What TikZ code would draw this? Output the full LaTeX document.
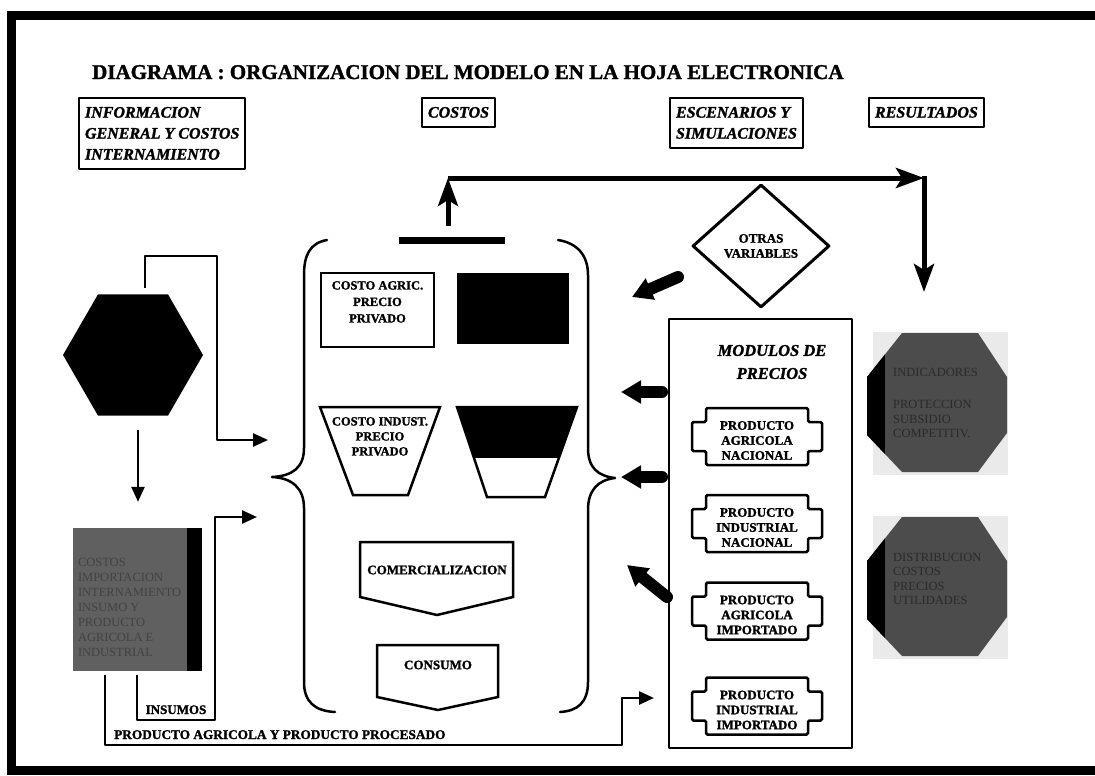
\documentclass[tikz,border=0pt]{standalone}
\usepackage{fontspec}
\setmainfont{Liberation Serif}[BoldFeatures={FakeBold=1.5},BoldItalicFeatures={FakeBold=1.5}]
\usetikzlibrary{arrows.meta,calc,positioning,shapes.geometric}

\definecolor{impgray}{RGB}{96,96,96}
\definecolor{imptext}{RGB}{66,66,66}
\definecolor{octgray}{RGB}{76,76,76}
\definecolor{octtext}{RGB}{42,42,42}
\definecolor{octback}{RGB}{234,234,234}

\tikzset{
  titletext/.style={font=\fontsize{21}{25}\selectfont\bfseries,inner sep=0pt,anchor=base west},
  headbox/.style={draw,line width=2pt,font=\fontsize{16}{21}\selectfont\bfseries\itshape,align=left,inner xsep=6pt,inner ysep=9pt,anchor=north west},
  lbl/.style={font=\fontsize{13}{15}\selectfont\bfseries,align=center,inner sep=0pt},
  boxline/.style={line width=2.5pt,line join=miter},
  flowarrow/.style={line width=2.5pt,-{Triangle[length=15pt,width=13pt]}},
  blockarrow/.style={line width=12pt,line cap=round,-{Triangle[length=20pt,width=22pt]}},
  mainarrow/.style={line width=5pt,-{Stealth[length=28pt,width=20pt,inset=6pt]}},
  bracket/.style={line width=2.5pt,line cap=round},
  graytext/.style={font=\fontsize{12.5}{15}\selectfont,text=imptext,align=left,inner sep=0pt,anchor=north west},
  octlabel/.style={font=\fontsize{12.5}{14.5}\selectfont,text=octtext,align=left,inner sep=0pt,anchor=north west},
}

% caja de producto (modulos de precios)
\newcommand{\prodbox}[3]{%
  \draw[boxline,rounded corners=1.5pt] ($(#1)+(-51,-28.5)$) -- ++(102,0) -- ++(0,14) -- ++(14,0) -- ++(0,29) -- ++(-14,0) -- ++(0,14) -- ++(-102,0) -- ++(0,-14) -- ++(-14,0) -- ++(0,-29) -- ++(14,0) -- cycle;
  \node[lbl] (#2) at ($(#1)+(0,4)$) {#3};
}

\begin{document}
\begin{tikzpicture}[x=1pt,y=-1pt,line join=round]
\useasboundingbox (0,0) rectangle (1095,776);
\begin{scope}
\clip (0,0) rectangle (1095,776);
\draw[line width=9pt,line join=miter] (11.5,16) rectangle (1110,770);
\end{scope}

\node[titletext] (titulo) at (92,79) {DIAGRAMA : ORGANIZACION DEL MODELO EN LA HOJA ELECTRONICA};
\node[headbox] (info) at (78,97) {INFORMACION\\GENERAL Y COSTOS\\INTERNAMIENTO};
\node[headbox] (costos) at (421,97) {COSTOS};
\node[headbox] (escen) at (669,97) {ESCENARIOS Y\\SIMULACIONES};
\node[headbox] (result) at (868,97) {RESULTADOS};

% informacion general
\node[regular polygon,regular polygon sides=6,minimum size=140pt,inner sep=0pt,fill=black] (hex) at (133,355) {};
\node[fill=impgray,minimum width=129pt,minimum height=143pt,inner sep=0pt] (imp) at (137.5,599.5) {};
\fill (imp.north east) rectangle ($(imp.south east)+(-15,0)$);
\node[graytext] (imptxt) at ($(imp.north west)+(5,30)$) {COSTOS\\IMPORTACION\\INTERNAMIENTO\\INSUMO Y\\PRODUCTO\\AGRICOLA E\\INDUSTRIAL};

\coordinate (hextop) at (145,288);
\coordinate (costin) at (268,440);
\coordinate (insin) at (257,517);
\coordinate (prodin) at (654,698);
\draw[flowarrow] (hextop) |- (217,256) |- (costin);
\draw[flowarrow] ($(hex.south)+(5,14)$) -- ($(imp.north)+(0.5,-26)$);
\draw[flowarrow] ($(imp.south)+(-0.5,4)$) |- (215,720) |- (insin);
\draw[flowarrow] ($(imp.south west)+(32,4)$) |- (622,745) |- (prodin);
\node[lbl,anchor=base] (insumos) at (176,714) {INSUMOS};
\node[lbl,anchor=base west,font=\fontsize{13.3}{15}\selectfont\bfseries] (procesado) at (114,739) {PRODUCTO AGRICOLA Y PRODUCTO PROCESADO};

% costos
\draw[bracket] (327,240) .. controls (310,243) and (304,255) .. (304,275) -- (304,448) .. controls (304,468) and (292,476) .. (272,477) .. controls (292,478) and (304,488) .. (304,508) -- (304,682) .. controls (304,702) and (315,711) .. (335,712);
\draw[bracket] (558,240) .. controls (577,243) and (588,255) .. (588,275) -- (588,448) .. controls (588,468) and (598,476) .. (615,478) .. controls (598,480) and (588,490) .. (588,510) -- (588,682) .. controls (588,702) and (578,711) .. (560,712);
\draw[line width=7pt] (399,240) -- (505,240);

\draw[boxline] (321,273) rectangle (434,347);
\node[lbl,anchor=north,font=\fontsize{12.5}{16.5}\selectfont\bfseries] (agric) at (377.5,281) {COSTO AGRIC.\\PRECIO\\PRIVADO};
\fill (457,273) rectangle (569,344);
\draw[boxline] (320,407) -- (440,407) -- (408,495) -- (353,495) -- cycle;
\node[lbl,anchor=north,font=\fontsize{12.5}{15}\selectfont\bfseries] (indust) at (380,417) {COSTO INDUST.\\PRECIO\\PRIVADO};
\begin{scope}
\clip (457,407) -- (577,407) -- (545,497) -- (487,497) -- cycle;
\fill (450,400) rectangle (585,458);
\end{scope}
\draw[boxline] (457,407) -- (577,407) -- (545,497) -- (487,497) -- cycle;
\draw[boxline] (360,542) -- (513,542) -- (513,597) -- (437,615) -- (360,597) -- cycle;
\node[lbl] (comerc) at (437,570) {COMERCIALIZACION};
\draw[boxline] (377,645) -- (498,645) -- (498,697) -- (438,710) -- (377,697) -- cycle;
\node[lbl] (consumo) at (438,665) {CONSUMO};

% escenarios y simulaciones
\node[diamond,draw,line width=3pt,minimum width=137pt,minimum height=123pt,lbl] (otras) at (761,246) {OTRAS\\VARIABLES};
\node[draw,line width=2.5pt,minimum width=183pt,minimum height=429pt,inner sep=0pt] (modulos) at (760.5,533.5) {};
\node[font=\fontsize{16.5}{23}\selectfont\bfseries\itshape,align=center,inner sep=0pt] (modtit) at (772,362) {MODULOS DE\\PRECIOS};

\coordinate (pan) at (757,436.5);
\coordinate (pin) at (757,523.5);
\coordinate (pai) at (757,611);
\coordinate (pii) at (757,706);
\prodbox{pan}{pantxt}{PRODUCTO\\AGRICOLA\\NACIONAL}
\prodbox{pin}{pintxt}{PRODUCTO\\INDUSTRIAL\\NACIONAL}
\prodbox{pai}{paitxt}{PRODUCTO\\AGRICOLA\\IMPORTADO}
\prodbox{pii}{piitxt}{PRODUCTO\\INDUSTRIAL\\IMPORTADO}

\coordinate (otrasout) at (678,277);
\coordinate (otrasin) at (632,297);
\coordinate (modout1) at (662,392);
\coordinate (modin1) at (621,392);
\coordinate (modout2) at (662,477);
\coordinate (modin2) at (621,477);
\coordinate (modout3) at (667,597);
\coordinate (modin3) at (627,565);
\draw[blockarrow] (otrasout) -- (otrasin);
\draw[blockarrow] (modout1) -- (modin1);
\draw[blockarrow] (modout2) -- (modin2);
\draw[blockarrow] (modout3) -- (modin3);

% hacia resultados
\coordinate (upfoot) at (448,226);
\coordinate (topcorner) at (924,178);
\coordinate (resin) at (924,292);
\draw[mainarrow] (upfoot) -- (upfoot |- topcorner);
\draw[mainarrow] (upfoot |- topcorner) -- (topcorner);
\draw[mainarrow] ($(topcorner)+(0,-2.5)$) -- (resin);

% resultados
\foreach \oy in {0,184} {
  \begin{scope}[shift={(0,\oy)}]
    \fill[octback] (873,332) rectangle (1008,475);
    \fill[octgray] (902,333) -- (978,333) -- (1007,377) -- (1007,433) -- (978,472) -- (902,472) -- (867,435) -- (867,377) -- cycle;
    \begin{scope}
      \clip (902,333) -- (978,333) -- (1007,377) -- (1007,433) -- (978,472) -- (902,472) -- (867,435) -- (867,377) -- cycle;
      \fill (860,330) rectangle (885,480);
    \end{scope}
  \end{scope}
}
\node[octlabel] (indic) at (893,368) {INDICADORES\\[18pt]PROTECCION\\SUBSIDIO\\COMPETITIV.};
\node[octlabel] (distr) at (893,553) {DISTRIBUCION\\COSTOS\\PRECIOS\\UTILIDADES};
\end{tikzpicture}
\end{document}
